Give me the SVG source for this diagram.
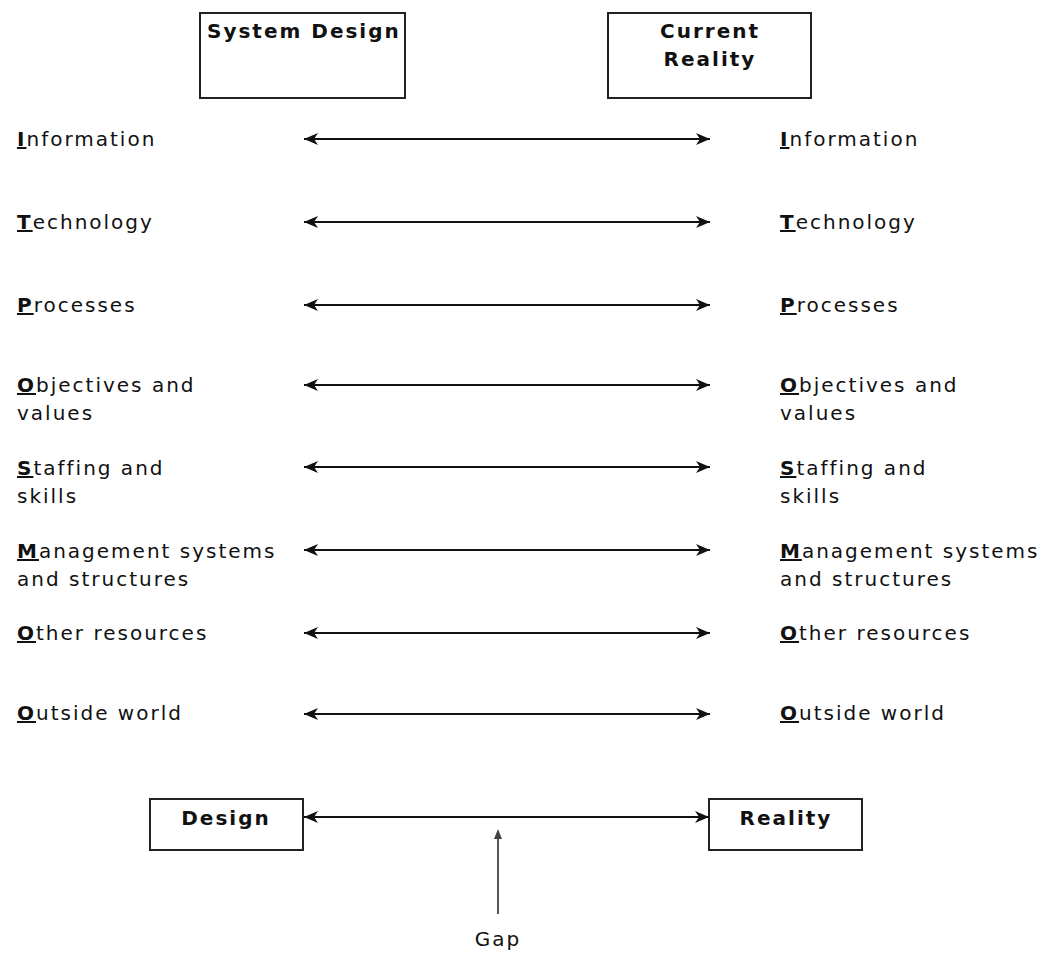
<svg xmlns="http://www.w3.org/2000/svg" width="1051" height="954" viewBox="0 0 1051 954">
<style>
text{font-family:"DejaVu Sans",Verdana,sans-serif;font-size:20px;letter-spacing:2px;fill:#111}
.b{font-weight:bold}
.u{font-weight:bold;text-decoration:underline}
.box{fill:#fff;stroke:#222;stroke-width:2}
.c{stroke:#111;stroke-width:2;fill:none}
.g{stroke:#555;stroke-width:2;fill:none}
.m{text-anchor:middle}
</style>
<defs>
<marker id="ah" viewBox="0 0 14 12" refX="14" refY="6" markerWidth="14" markerHeight="12" markerUnits="userSpaceOnUse" orient="auto-start-reverse">
<path d="M0,0 L14,6 L0,12 L4,6 Z" fill="#111"/>
</marker>
</defs>
<rect width="1051" height="954" fill="#fff"/>
<g id="system-design"><rect class="box" x="200" y="13" width="205" height="85"/><text class="b" x="207" y="38">System Design</text></g>
<g id="current-reality"><rect class="box" x="608" y="13" width="203" height="85"/><text class="b m" x="710" y="38">Current</text><text class="b m" x="710" y="66">Reality</text></g>
<g id="left-labels">
<text x="17" y="146"><tspan class="u">I</tspan>nformation</text>
<text x="17" y="229"><tspan class="u">T</tspan>echnology</text>
<text x="17" y="312"><tspan class="u">P</tspan>rocesses</text>
<text x="17" y="392"><tspan class="u">O</tspan>bjectives and</text>
<text x="17" y="420">values</text>
<text x="17" y="475"><tspan class="u">S</tspan>taffing and</text>
<text x="17" y="503">skills</text>
<text x="17" y="558"><tspan class="u">M</tspan>anagement systems</text>
<text x="17" y="586">and structures</text>
<text x="17" y="640"><tspan class="u">O</tspan>ther resources</text>
<text x="17" y="720"><tspan class="u">O</tspan>utside world</text>
</g>
<g id="right-labels">
<text x="780" y="146"><tspan class="u">I</tspan>nformation</text>
<text x="780" y="229"><tspan class="u">T</tspan>echnology</text>
<text x="780" y="312"><tspan class="u">P</tspan>rocesses</text>
<text x="780" y="392"><tspan class="u">O</tspan>bjectives and</text>
<text x="780" y="420">values</text>
<text x="780" y="475"><tspan class="u">S</tspan>taffing and</text>
<text x="780" y="503">skills</text>
<text x="780" y="558"><tspan class="u">M</tspan>anagement systems</text>
<text x="780" y="586">and structures</text>
<text x="780" y="640"><tspan class="u">O</tspan>ther resources</text>
<text x="780" y="720"><tspan class="u">O</tspan>utside world</text>
</g>
<g id="design"><rect class="box" x="150" y="799" width="153" height="51"/><text class="b m" x="226" y="825">Design</text></g>
<g id="reality"><rect class="box" x="709" y="799" width="153" height="51"/><text class="b m" x="786" y="825">Reality</text></g>
<g id="gap"><text class="m" x="498" y="946">Gap</text></g>
<g id="connectors">
<line class="c" x1="304" y1="139" x2="710" y2="139" marker-start="url(#ah)" marker-end="url(#ah)"/>
<line class="c" x1="304" y1="222" x2="710" y2="222" marker-start="url(#ah)" marker-end="url(#ah)"/>
<line class="c" x1="304" y1="305" x2="710" y2="305" marker-start="url(#ah)" marker-end="url(#ah)"/>
<line class="c" x1="304" y1="385" x2="710" y2="385" marker-start="url(#ah)" marker-end="url(#ah)"/>
<line class="c" x1="304" y1="467" x2="710" y2="467" marker-start="url(#ah)" marker-end="url(#ah)"/>
<line class="c" x1="304" y1="550" x2="710" y2="550" marker-start="url(#ah)" marker-end="url(#ah)"/>
<line class="c" x1="304" y1="633" x2="710" y2="633" marker-start="url(#ah)" marker-end="url(#ah)"/>
<line class="c" x1="304" y1="714" x2="710" y2="714" marker-start="url(#ah)" marker-end="url(#ah)"/>
<line class="c" x1="304" y1="817" x2="709" y2="817" marker-start="url(#ah)" marker-end="url(#ah)"/>
<line class="g" x1="498" y1="914" x2="498" y2="832"/>
<path d="M494,839 L498,829 L502,839 Z" fill="#444"/>
</g>
</svg>
